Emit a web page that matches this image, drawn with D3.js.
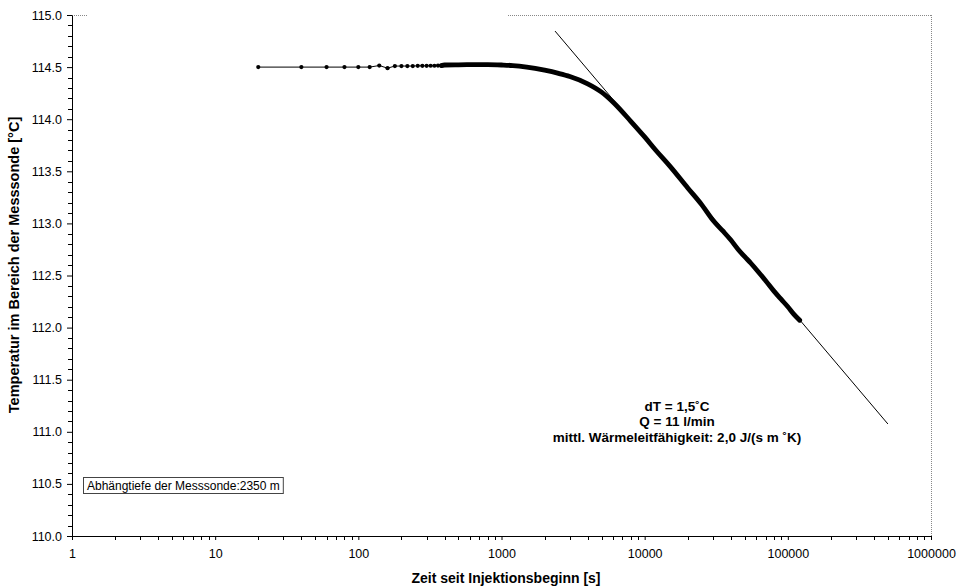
<!DOCTYPE html>
<html>
<head>
<meta charset="utf-8">
<script src="https://cdn.jsdelivr.net/npm/d3@7"></script>
<style>
  html, body { margin: 0; padding: 0; background: #fff; }
  svg { display: block; font-family: "Liberation Sans", Arial, sans-serif; }
</style>
</head>
<body>
<svg id="chart" width="967" height="586"></svg>
<script>
// ---- data ----
const earlyTimes = [20, 40, 60, 80, 100, 120, 140, 160, 180, 200, 220, 240, 260, 280, 300, 320, 340, 360, 380];
const earlyTemps = [114.50, 114.50, 114.50, 114.50, 114.50, 114.50, 114.515, 114.49, 114.51, 114.51, 114.51, 114.51, 114.512, 114.512, 114.512, 114.513, 114.513, 114.515, 114.515];

const denseTimes = [380, 400, 500, 600, 800, 1000, 1200, 1500, 2000, 2500, 3000, 4000, 5000, 6000, 8000, 10000, 12000, 15000, 20000, 25000, 30000, 35000, 40000, 45000, 50000, 55000, 60000, 70000, 80000, 90000, 100000, 110000, 121000];
const denseTemps = [114.515, 114.52, 114.522, 114.523, 114.523, 114.52, 114.515, 114.50, 114.47, 114.44, 114.41, 114.34, 114.26, 114.165, 113.98, 113.83, 113.70, 113.55, 113.34, 113.18, 113.03, 112.93, 112.84, 112.75, 112.68, 112.62, 112.56, 112.45, 112.35, 112.27, 112.20, 112.13, 112.07];

const tangentTimes = [2365, 500000];
const tangentTemps = [114.846, 111.075];

const yTicks = [110.0, 110.5, 111.0, 111.5, 112.0, 112.5, 113.0, 113.5, 114.0, 114.5, 115.0];
const xTicks = [1, 10, 100, 1000, 10000, 100000, 1000000];
const xTickLabels = ["1", "10", "100", "1000", "10000", "100000", "1000000"];

const xTitle = "Zeit seit Injektionsbeginn [s]";
const yTitle = "Temperatur im Bereich der Messsonde [°C]";
const noteLines = ["dT = 1,5˚C", "Q = 11 l/min", "mittl. Wärmeleitfähigkeit: 2,0 J/(s m ˚K)"];
const boxLabel = "Abhängtiefe der Messsonde:2350 m";

// ---- layout ----
const svg = d3.select("#chart");
const L = 72, R = 931, T = 15, B = 536;

const x = d3.scaleLog().domain([1, 1000000]).range([L, R]);
const y = d3.scaleLinear().domain([110, 115]).range([B, T]);

// plot frame (dotted grey top/right)
svg.append("line").attr("x1", L).attr("x2", L + 16).attr("y1", T + 0.5).attr("y2", T + 0.5)
  .attr("stroke", "#888").attr("stroke-dasharray", "1,1");
svg.append("line").attr("x1", 508).attr("x2", R).attr("y1", T + 0.5).attr("y2", T + 0.5)
  .attr("stroke", "#888").attr("stroke-dasharray", "1,1");
svg.append("line").attr("x1", R + 0.5).attr("x2", R + 0.5).attr("y1", T).attr("y2", B)
  .attr("stroke", "#888").attr("stroke-dasharray", "1,1");

// y axis
const yAxis = d3.axisLeft(y).tickValues(yTicks).tickFormat(d3.format(".1f")).tickSize(5).tickSizeOuter(0).tickPadding(5);
const gy = svg.append("g").attr("transform", `translate(${L},0)`).call(yAxis);
gy.selectAll("text").attr("font-size", 12.5).attr("fill", "#000").attr("font-family", "Liberation Sans, Arial, sans-serif");
gy.selectAll("line,path").attr("stroke", "#000");
// y minor ticks
const yMinor = d3.range(110, 115.0001, 0.1).filter(v => Math.abs(v * 2 - Math.round(v * 2)) > 1e-6);
svg.append("g").selectAll("line").data(yMinor).join("line")
  .attr("x1", L - 4).attr("x2", L).attr("y1", d => Math.round(y(d)) + 0.5).attr("y2", d => Math.round(y(d)) + 0.5)
  .attr("stroke", "#000");

// x axis
const xAxis = d3.axisBottom(x).tickValues(xTicks).tickFormat((d, i) => xTickLabels[i]).tickSize(4).tickSizeOuter(0).tickPadding(9);
const gx = svg.append("g").attr("transform", `translate(0,${B})`).call(xAxis);
gx.selectAll("text").attr("font-size", 12.5).attr("fill", "#000").attr("font-family", "Liberation Sans, Arial, sans-serif");
gx.selectAll("line,path").attr("stroke", "#000");
// x minor ticks
const xMinor = [];
for (let e = 0; e < 6; e++) for (let m = 2; m <= 9; m++) xMinor.push(m * Math.pow(10, e));
svg.append("g").selectAll("line").data(xMinor).join("line")
  .attr("x1", d => Math.round(x(d)) + 0.5).attr("x2", d => Math.round(x(d)) + 0.5)
  .attr("y1", B).attr("y2", B + 4).attr("stroke", "#000");

// titles
svg.append("text").attr("x", 506).attr("y", 583).attr("text-anchor", "middle")
  .attr("font-size", 14).attr("font-weight", "bold").text(xTitle);
svg.append("text").attr("transform", `translate(19,265) rotate(-90)`).attr("text-anchor", "middle")
  .attr("font-size", 14.5).attr("font-weight", "bold").text(yTitle);

// tangent line
const straight = d3.line().x(d => x(d[0])).y(d => y(d[1]));
svg.append("path").datum(tangentTimes.map((t, i) => [t, tangentTemps[i]]))
  .attr("d", straight).attr("fill", "none").attr("stroke", "#000").attr("stroke-width", 1);

// early series: thin line + markers
const early = earlyTimes.map((t, i) => [t, earlyTemps[i]]);
svg.append("path").datum(early).attr("d", straight).attr("fill", "none").attr("stroke", "#000").attr("stroke-width", 1);
svg.append("g").selectAll("circle").data(early).join("circle")
  .attr("cx", d => x(d[0])).attr("cy", d => y(d[1])).attr("r", 2.1).attr("fill", "#000");

// dense part: markers overlap into a thick line
const smooth = d3.line().x(d => x(d[0])).y(d => y(d[1])).curve(d3.curveMonotoneX);
const dense = denseTimes.map((t, i) => [t, denseTemps[i]]);
svg.append("path").datum(dense).attr("d", smooth).attr("fill", "none")
  .attr("stroke", "#000").attr("stroke-width", 4.8).attr("stroke-linejoin", "round").attr("stroke-linecap", "round");

// annotation
const note = svg.append("text").attr("text-anchor", "middle").attr("font-size", 13.5).attr("font-weight", "bold");
noteLines.forEach((s, i) => note.append("tspan").attr("x", 677).attr("y", 410.5 + i * 15.5).text(s));

// box label
const boxG = svg.append("g");
const boxRect = boxG.append("rect");
const bt = boxG.append("text").attr("x", 87).attr("y", 489.5).attr("font-size", 12).text(boxLabel);
const bw = bt.node().getComputedTextLength();
boxRect.attr("x", 83.5).attr("y", 477.5).attr("width", bw + 7).attr("height", 16)
  .attr("fill", "#fff").attr("stroke", "#444").attr("stroke-width", 1);
</script>
</body>
</html>
